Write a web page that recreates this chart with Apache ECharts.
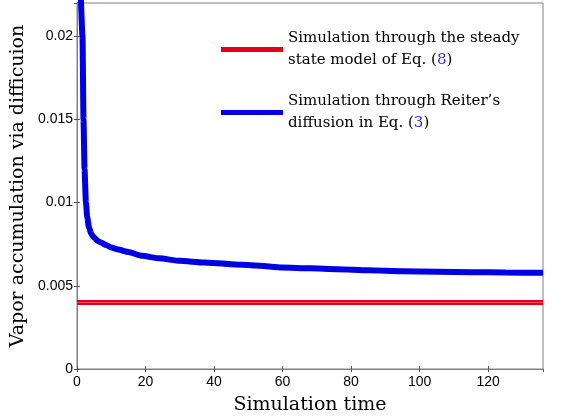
<!DOCTYPE html>
<html><head><meta charset="utf-8">
<script src="https://cdn.jsdelivr.net/npm/echarts@6/dist/echarts.min.js"></script>
<style>html,body{margin:0;padding:0;background:#fff}#c{width:561px;height:420px}</style>
</head><body><div id="c"></div>
<script>
var xTicks = [0, 20, 40, 60, 80, 100, 120];
var yTicks = [0, 0.005, 0.01, 0.015, 0.02];
var reiterX = [1.1, 1.6, 1.9, 2.2, 2.6, 3.0, 3.5, 4.2, 5, 6, 7, 8.5, 10, 12, 15, 19, 24, 30, 37, 45, 52, 60, 68, 76, 85, 95, 105, 115, 125, 136];
var reiterY = [0.0225, 0.020, 0.015, 0.012, 0.0100, 0.0091, 0.0085, 0.0081, 0.0079, 0.0077, 0.0076, 0.00745, 0.0073, 0.00718, 0.00703, 0.0068, 0.00665, 0.0065, 0.0064, 0.0063, 0.00622, 0.0061, 0.00605, 0.006, 0.00594, 0.00588, 0.00585, 0.00582, 0.0058, 0.00578];
var steadyX = [0, 136];
var steadyY = [0.004, 0.004];
var seriesNames = ['steady', 'reiter'];

function pairs(xs, ys){ return xs.map(function(x,i){ return [x, ys[i]]; }); }

var chart = echarts.init(document.getElementById('c'));
var axisCommon = {
  axisLine: {show: true, lineStyle: {color: '#808080', width: 1}},
  axisTick: {show: true, inside: true, length: 3, lineStyle: {color: '#555'}},
  splitLine: {show: false}
};
chart.setOption({
  animation: false,
  grid: {left: 77, right: 18, top: 3, bottom: 50, show: true, borderColor: '#808080', borderWidth: 1},
  xAxis: [Object.assign({
    type: 'value', min: 0, max: 136, interval: 20,
    name: 'Simulation time', nameLocation: 'middle', nameGap: 27,
    nameTextStyle: {fontFamily: 'DejaVu Serif', fontSize: 19, color: '#000'},
    axisLabel: {showMaxLabel: false, margin: 6, fontFamily: 'Liberation Sans', fontSize: 14, color: '#000',
      formatter: function(v){ return xTicks.indexOf(v) >= 0 ? String(v) : ''; }}
  }, axisCommon), Object.assign({
    type: 'value', min: 0, max: 136, interval: 20, position: 'top', axisLabel: {show: false}
  }, axisCommon)],
  yAxis: [Object.assign({
    type: 'value', min: 0, max: 0.022, interval: 0.005,
    name: 'Vapor accumulation via difficuion', nameLocation: 'middle', nameGap: 46,
    nameTextStyle: {fontFamily: 'DejaVu Serif', fontSize: 19, color: '#000'},
    axisLabel: {showMaxLabel: false, margin: 4, fontFamily: 'Liberation Sans', fontSize: 14, color: '#000',
      formatter: function(v){ var t = yTicks.filter(function(a){ return Math.abs(a - v) < 1e-9; }); return t.length ? String(t[0]) : ''; }}
  }, axisCommon), Object.assign({
    type: 'value', min: 0, max: 0.022, interval: 0.005, position: 'right', axisLabel: {show: false}
  }, axisCommon)],
  legend: {
    orient: 'vertical', left: 216, top: 26, itemWidth: 62, itemHeight: 5, itemGap: 26,
    icon: 'rect',
    data: seriesNames,
    formatter: function(n){
      if (n === 'steady') return '{t|Simulation through the steady}\n{t|state model of Eq. (}{b|8}{t|)}';
      return '{t|Simulation through Reiter\u2019s}\n{t|diffusion in Eq. (}{b|3}{t|)}';
    },
    textStyle: {
      rich: {
        t: {fontFamily: 'DejaVu Serif', fontSize: 15, color: '#000', lineHeight: 22},
        b: {fontFamily: 'DejaVu Serif', fontSize: 15, color: '#3a2cf0', lineHeight: 22}
      }
    }
  },
  series: [
    {name: 'steady', type: 'line', showSymbol: false, symbol: 'none', data: pairs(steadyX, steadyY),
     lineStyle: {color: '#e3001b', width: 5}, itemStyle: {color: '#e3001b'}},
    {name: 'steadyCore', type: 'line', showSymbol: false, symbol: 'none', data: pairs(steadyX, steadyY),
     lineStyle: {color: '#ee6070', width: 0.8}, silent: true},
    {name: 'reiter', type: 'line', showSymbol: false, symbol: 'none', data: pairs(reiterX, reiterY),
     smooth: 0.2, smoothMonotone: 'x',
     lineStyle: {color: '#0000e0', width: 6}, itemStyle: {color: '#0000e0'}}
  ]
});
</script></body></html>
